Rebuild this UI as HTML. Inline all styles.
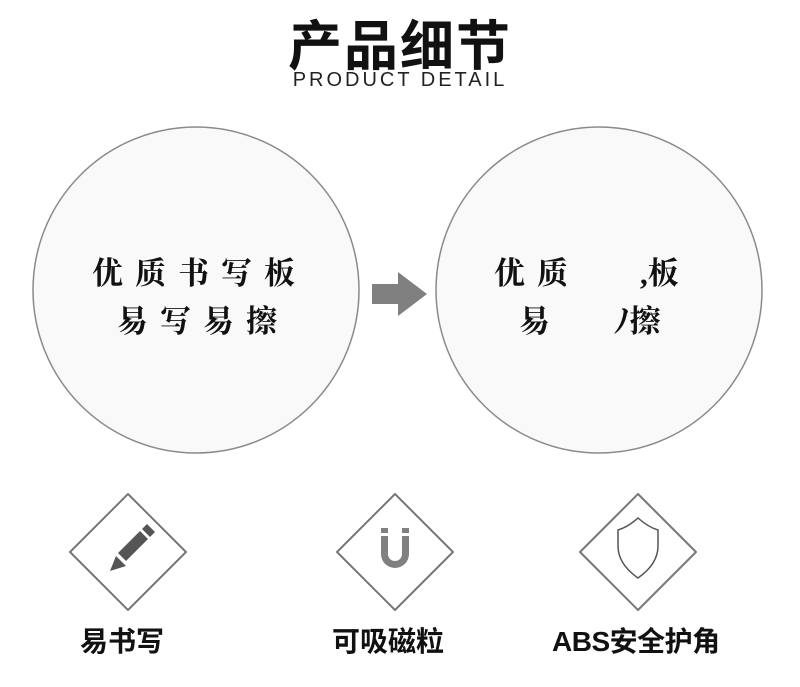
<!DOCTYPE html>
<html><head><meta charset="utf-8"><style>
body{margin:0;width:800px;height:687px;background:#fff;position:relative;overflow:hidden;font-family:"Liberation Sans","Noto Sans CJK SC",sans-serif}
.a{position:absolute;white-space:nowrap}
.t{font-family:"Liberation Serif","Noto Serif CJK SC",serif;font-weight:bold;font-size:31px;color:#111}
.lb{font-weight:bold;font-size:28px;color:#111}
</style></head><body>
<div class="a" style="left:0;width:800px;text-align:center;top:2px;font-size:54px;font-weight:bold;color:#111;letter-spacing:2px">产品细节</div>
<div class="a" style="left:0;width:800px;text-align:center;top:69px;font-size:20px;color:#222;letter-spacing:3px">PRODUCT DETAIL</div>
<svg class="a" style="left:0;top:0" width="800" height="687">
<circle cx="196" cy="290" r="163" fill="#f9f9f9" stroke="#8a8a8a" stroke-width="1.5"/>
<circle cx="599" cy="290" r="163" fill="#f9f9f9" stroke="#8a8a8a" stroke-width="1.5"/>
<polygon points="372,284 398,284 398,272 427,294 398,316 398,304 372,304" fill="#808080"/>
<g fill="none" stroke="#777" stroke-width="2" stroke-linejoin="round">
<polygon points="128,494 186,552 128,610 70,552"/>
<polygon points="395,494 453,552 395,610 337,552"/>
<polygon points="638,494 696,552 638,610 580,552"/>
</g>
<g fill="#555">
<polygon points="110,571 116,556 126,566"/>
<polygon points="118,553 140,531 148,539 126,561"/>
<polygon points="142,529 147,524 155,532 150,537"/>
</g>
<g fill="#808080">
<rect x="381" y="528" width="7" height="5"/><rect x="402" y="528" width="7" height="5"/>
<path d="M381,536 h7 v18 a7,7 0 0 0 14,0 v-18 h7 v18 a14,14 0 0 1 -28,0 z"/>
</g>
<path d="M618,530 q10,-3 20,-12 q10,9 20,12 v16 q0,18 -20,32 q-20,-14 -20,-32 z" fill="none" stroke="#555" stroke-width="1.5"/>
</svg>
<div class="a t" style="left:92px;top:248px;letter-spacing:12px">优质书写板</div>
<div class="a t" style="left:117px;top:296px;letter-spacing:12px">易写易擦</div>
<div class="a t" style="left:494px;top:248px;letter-spacing:12px">优质</div>
<div class="a t" style="left:640px;top:248px">,板</div>
<div class="a t" style="left:519px;top:296px">易</div>
<div class="a t" style="left:614px;top:296px">ﾉ擦</div>
<div class="a lb" style="left:80px;top:620px">易书写</div>
<div class="a lb" style="left:332px;top:620px">可吸磁粒</div>
<div class="a lb" style="left:552px;top:620px;letter-spacing:-0.5px">ABS安全护角</div>
</body></html>
